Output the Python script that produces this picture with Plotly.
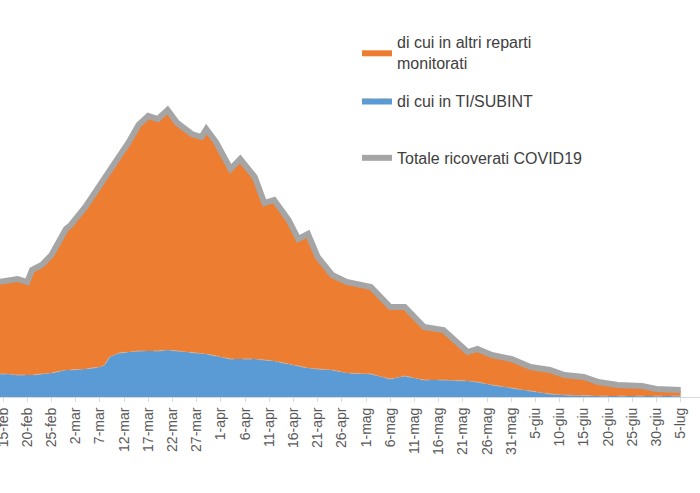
import plotly.graph_objects as go

# Dates (day resolution)
dates = ["2021-02-14", "2021-02-16", "2021-02-18", "2021-02-20", "2021-02-21", "2021-02-23",
         "2021-02-25", "2021-02-28", "2021-03-01", "2021-03-04", "2021-03-07", "2021-03-08",
         "2021-03-09", "2021-03-11", "2021-03-13", "2021-03-15", "2021-03-17", "2021-03-19",
         "2021-03-21", "2021-03-23", "2021-03-26", "2021-03-28", "2021-03-29", "2021-03-31",
         "2021-04-03", "2021-04-05", "2021-04-08", "2021-04-10", "2021-04-12", "2021-04-15",
         "2021-04-17", "2021-04-19", "2021-04-21", "2021-04-24", "2021-04-27", "2021-05-02",
         "2021-05-06", "2021-05-09", "2021-05-13", "2021-05-17", "2021-05-22", "2021-05-24",
         "2021-05-27", "2021-05-31", "2021-06-04", "2021-06-08", "2021-06-11", "2021-06-15",
         "2021-06-18", "2021-06-22", "2021-06-27", "2021-06-30", "2021-07-05"]

totale = [115, 117, 118, 115, 127, 132, 142, 168, 172, 190, 212, 218, 224, 240, 255, 272, 281, 278,
          287, 274, 263, 260, 268, 255, 228, 238, 220, 194, 197, 177, 158, 163, 140, 122, 115, 110,
          90, 90, 70, 67, 45, 48, 42, 38, 30, 27, 22, 20, 15, 12, 11, 8, 7]

ti_subint = [23, 23, 22, 22, 22, 23, 24, 27, 27, 28, 30, 32, 40, 44, 45, 46, 46, 46,
             47, 46, 45, 44, 43, 41, 38, 38, 38, 37, 36, 33, 31, 29, 28, 27, 24, 23,
             18, 21, 17, 17, 16, 15, 12, 9, 6, 3, 2, 1, 1, 1, 1, 1, 1]

altri = [t - s for t, s in zip(totale, ti_subint)]

tick_dates = ["2021-02-15", "2021-02-20", "2021-02-25", "2021-03-02", "2021-03-07", "2021-03-12",
              "2021-03-17", "2021-03-22", "2021-03-27", "2021-04-01", "2021-04-06", "2021-04-11",
              "2021-04-16", "2021-04-21", "2021-04-26", "2021-05-01", "2021-05-06", "2021-05-11",
              "2021-05-16", "2021-05-21", "2021-05-26", "2021-05-31", "2021-06-05", "2021-06-10",
              "2021-06-15", "2021-06-20", "2021-06-25", "2021-06-30", "2021-07-05"]
tick_labels = ["15-feb", "20-feb", "25-feb", "2-mar", "7-mar", "12-mar", "17-mar", "22-mar",
               "27-mar", "1-apr", "6-apr", "11-apr", "16-apr", "21-apr", "26-apr", "1-mag",
               "6-mag", "11-mag", "16-mag", "21-mag", "26-mag", "31-mag", "5-giu", "10-giu",
               "15-giu", "20-giu", "25-giu", "30-giu", "5-lug"]

fig = go.Figure()
fig.add_trace(go.Scatter(
    x=dates, y=ti_subint, name="di cui in TI/SUBINT", stackgroup="s",
    mode="lines", line=dict(width=0.8, color="#C9B8A8", dash="dash"),
    fillcolor="#5B9BD5", legendgroup="b", legendrank=2, legend="legend"))
fig.add_trace(go.Scatter(
    x=dates, y=altri, name="di cui in altri reparti<br>monitorati", stackgroup="s",
    mode="lines", line=dict(width=0, color="#ED7D31"),
    fillcolor="#ED7D31", legendgroup="a", legendrank=1, legend="legend"))
fig.add_trace(go.Scatter(
    x=dates, y=totale, name="Totale ricoverati COVID19",
    mode="lines", line=dict(width=6, color="#A5A5A5"),
    legend="legend2"))

legend_font = dict(family="Liberation Sans, Arial, sans-serif", size=16, color="#404040")

fig.update_layout(
    width=700, height=493,
    margin=dict(l=0, r=0, t=0, b=96),
    paper_bgcolor="white", plot_bgcolor="white",
    font=dict(family="Liberation Sans, Arial, sans-serif", color="#404040"),
    showlegend=True,
    legend=dict(x=0.51, y=0.937, xanchor="left", yanchor="top",
                traceorder="grouped", tracegroupgap=14,
                font=legend_font, bgcolor="rgba(0,0,0,0)"),
    legend2=dict(x=0.51, y=0.645, xanchor="left", yanchor="top",
                 font=legend_font, bgcolor="rgba(0,0,0,0)"),
    xaxis=dict(range=["2021-02-14 09:00", "2021-07-09 00:00"], type="date",
               tickvals=tick_dates, ticktext=tick_labels, tickangle=-90,
               tickfont=dict(size=14, color="#595959"), ticklabeloverflow="allow",
               showgrid=False, showline=True, linecolor="#D9D9D9", linewidth=1,
               ticks="outside", ticklen=4, tickcolor="#D9D9D9", automargin=False),
    yaxis=dict(range=[0, 397], visible=False, showgrid=False, zeroline=False),
)

fig.write_html("out.html")
